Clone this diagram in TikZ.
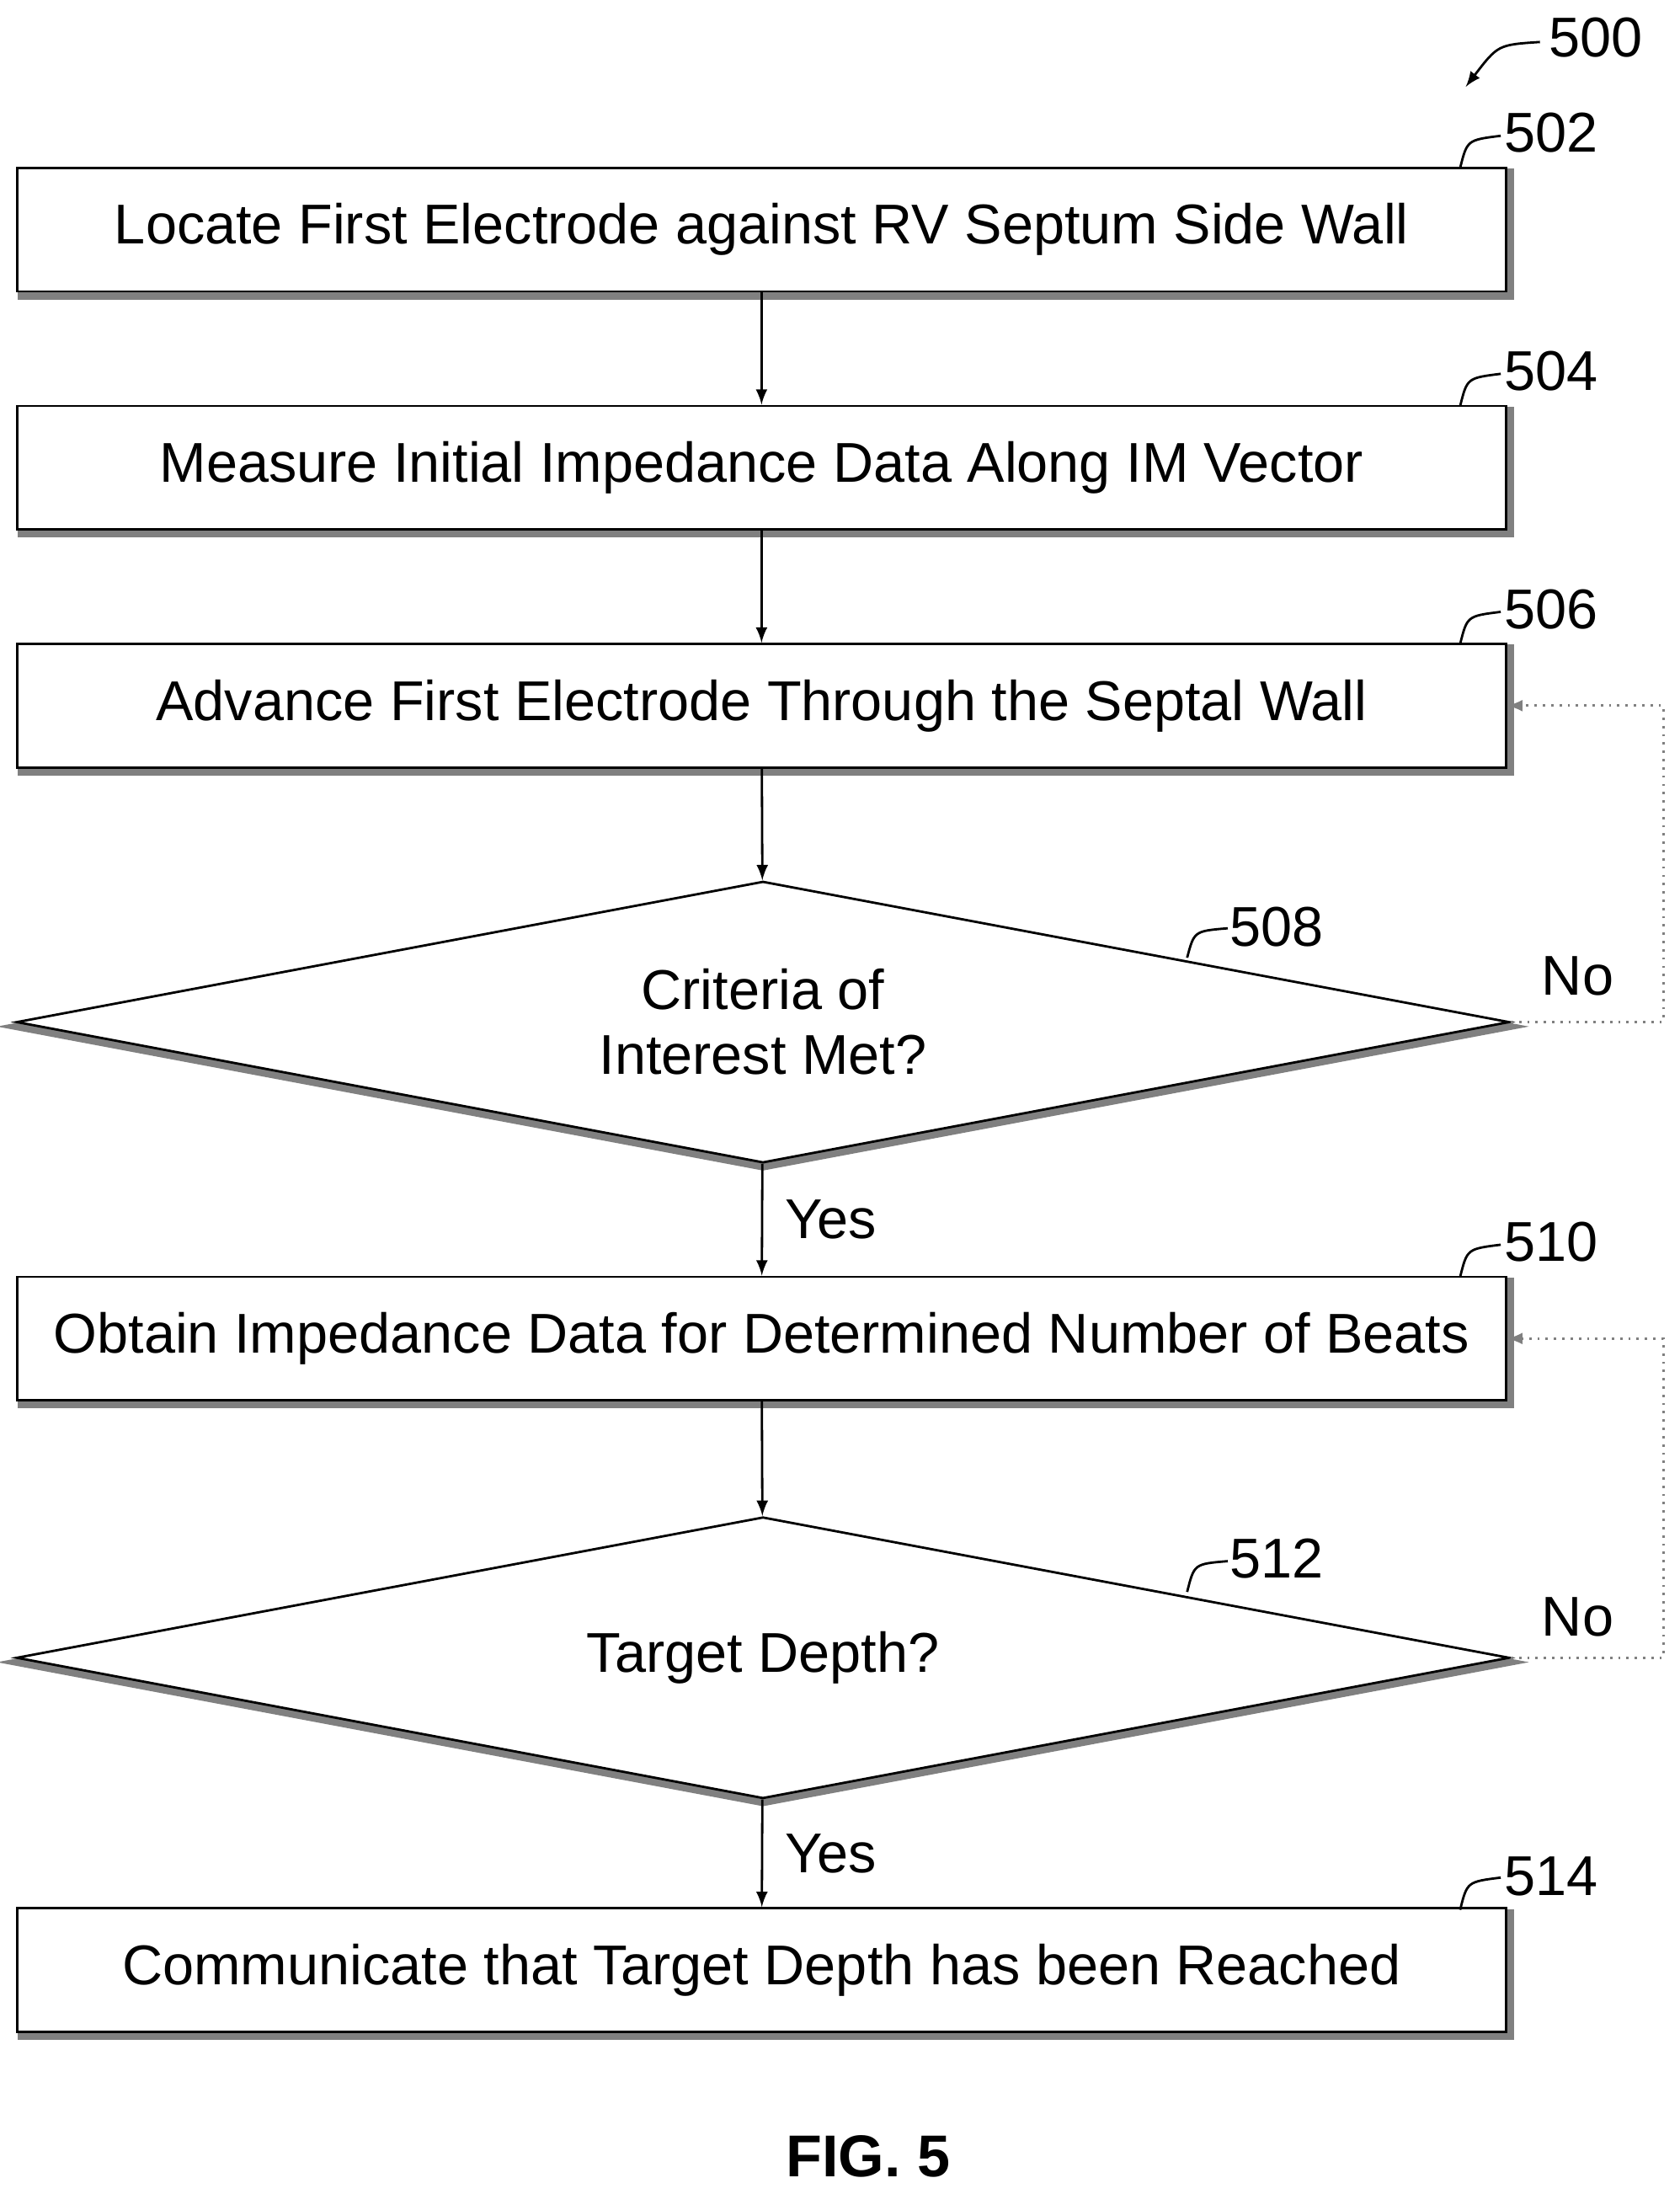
\documentclass[tikz,border=0pt]{standalone}
\usepackage{fontspec}
\setmainfont{Liberation Sans}
\usetikzlibrary{shapes.geometric}
\begin{document}
\begin{tikzpicture}[x=0.016667cm,y=-0.016667cm,
        block/.style={draw,thick,fill=white,minimum width=17.72cm,minimum height=1.47cm,font=\fontsize{19}{22}\selectfont,
            preaction={draw=gray,line width=2.5pt,transform canvas={xshift=1.5pt,yshift=-1.5pt}}},
        decision/.style={diamond,draw,thick,fill=white,aspect=5.33,minimum width=17.77cm,minimum height=3.35cm,inner sep=0pt,align=center,font=\fontsize{19}{22}\selectfont,
            preaction={draw=gray,line width=2.5pt,transform canvas={yshift=-1.5pt}}},
        ref/.style={font=\fontsize{19}{22}\selectfont},
        lead/.style={thick},
        back/.style={draw=gray,thick,dotted,->,>=latex}
    ]
    \useasboundingbox (0,0) rectangle (1200,1567);

    \node[block] (locate) at (544,164) {Locate First Electrode against RV Septum Side Wall};
    \node[block] (measure) at (544,334) {Measure Initial Impedance Data Along IM Vector};
    \node[block] (advance) at (544,504) {Advance First Electrode Through the Septal Wall};
    \node[decision] (criteria) at (545,730) {Criteria of\\Interest Met?};
    \node[block] (obtain) at (544,956) {Obtain Impedance Data for Determined Number of Beats};
    \node[decision] (target) at (545,1184) {Target Depth?};
    \node[block] (report) at (544,1407) {Communicate that Target Depth has been Reached};

    \draw[thick,->,>=latex] (locate) -- (measure);
    \draw[thick,->,>=latex] (measure) -- (advance);
    \draw[thick,->,>=latex] (advance) -- (criteria);
    \draw[thick,->,>=latex] (criteria) -- node[right,ref,xshift=4pt] {Yes} (obtain);
    \draw[thick,->,>=latex] (obtain) -- (target);
    \draw[thick,->,>=latex] (target) -- node[right,ref,xshift=4pt] {Yes} (report);

    % loops back on No
    \draw[back] (criteria.east) -- ++(109,0) |- (advance.east);
    \node[ref] (no1) at (1127,697) {No};
    \draw[back] (target.east) -- ++(109,0) |- (obtain.east);
    \node[ref] (no2) at (1127,1155) {No};

    % reference numerals
    \node[ref] (n500) at (1140,27) {500};
    \draw[thick,->,>=latex] (1100,30) .. controls (1070,32) .. (1047,62);
    \node[ref] (n502) at (1108,95) {502};
    \draw[lead] (1043,120) .. controls (1048,100) .. (1072,97);
    \node[ref] (n504) at (1108,265) {504};
    \draw[lead] (1043,290) .. controls (1048,270) .. (1072,267);
    \node[ref] (n506) at (1108,435) {506};
    \draw[lead] (1043,460) .. controls (1048,440) .. (1072,437);
    \node[ref] (n508) at (912,662) {508};
    \draw[lead] (848,684) .. controls (853,665) .. (877,663);
    \node[ref] (n510) at (1108,887) {510};
    \draw[lead] (1043,912) .. controls (1048,892) .. (1072,889);
    \node[ref] (n512) at (912,1113) {512};
    \draw[lead] (848,1137) .. controls (853,1117) .. (877,1115);
    \node[ref] (n514) at (1108,1340) {514};
    \draw[lead] (1043,1364) .. controls (1048,1344) .. (1072,1341);

    \node[font=\bfseries\fontsize{20}{24}\selectfont] (fig) at (620,1540) {FIG. 5};
\end{tikzpicture}
\end{document}
